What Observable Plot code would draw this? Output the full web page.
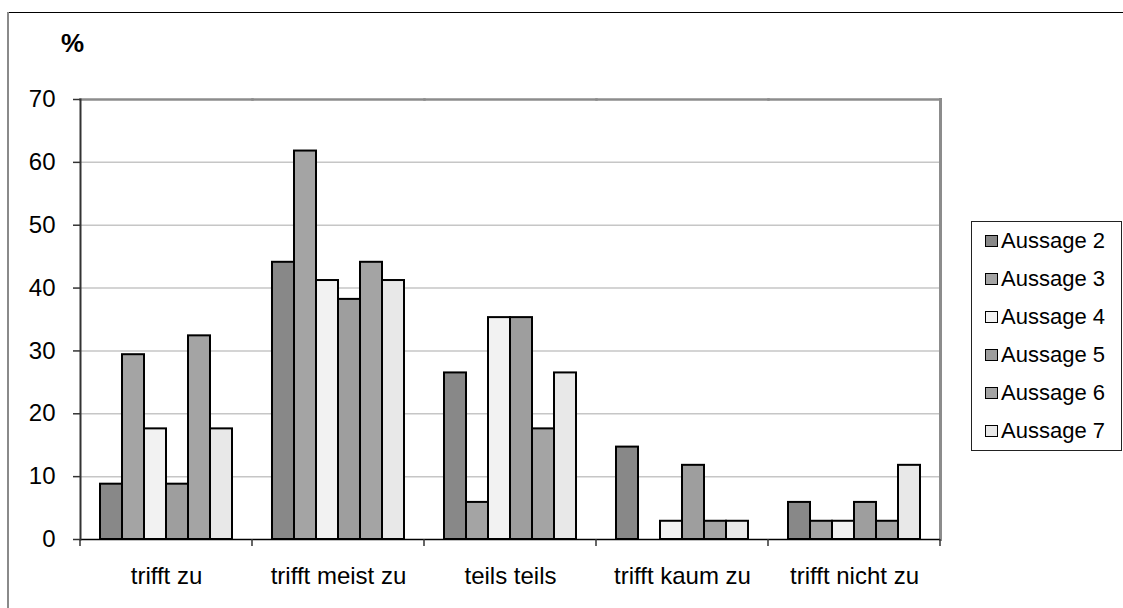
<!DOCTYPE html>
<html>
<head>
<meta charset="utf-8">
<script src="https://cdn.jsdelivr.net/npm/d3@7"></script>
<script src="https://cdn.jsdelivr.net/npm/@observablehq/plot@0.6"></script>
<style>
  body { margin: 0; background: #fff; font-family: Arial, "Liberation Sans", sans-serif; }
  #wrap { position: relative; width: 1123px; height: 608px; overflow: hidden; background: #fff; }
  #chart { position: absolute; left: 0; top: 0; }
  .border-top { position: absolute; left: 8px; top: 12px; right: 0; height: 0; border-top: 1.5px solid #000; }
  .border-left { position: absolute; left: 7px; top: 12px; bottom: 0; width: 0; border-left: 2px solid #8a8a8a; }
  .pct { position: absolute; left: 61px; top: 30px; font-size: 26px; line-height: 26px; font-weight: bold; color: #000; }
  .legend { position: absolute; left: 971px; top: 221px; width: 151px; height: 230px; border: 1px solid #222; box-sizing: border-box; background: #fff; }
  .item { height: 38px; display: flex; align-items: center; padding-left: 13px; }
  .sw { width: 11px; height: 10px; border: 1.5px solid #000; margin-right: 3px; flex: none; }
  .lab { font-size: 22px; white-space: nowrap; color: #000; }
</style>
</head>
<body>
<div id="wrap">
  <div id="chart"></div>
  <div class="border-top"></div>
  <div class="border-left"></div>
  <div class="pct">%</div>
  <div class="legend" id="legend"></div>
</div>
<script>
// ---- data ----
const categories = ["trifft zu", "trifft meist zu", "teils teils", "trifft kaum zu", "trifft nicht zu"];
const series = ["Aussage 2", "Aussage 3", "Aussage 4", "Aussage 5", "Aussage 6", "Aussage 7"];
const aussage2 = [8.8, 44.1, 26.5, 14.7, 5.9];
const aussage3 = [29.4, 61.8, 5.9, 0, 2.9];
const aussage4 = [17.6, 41.2, 35.3, 2.9, 2.9];
const aussage5 = [8.8, 38.2, 35.3, 11.8, 5.9];
const aussage6 = [32.4, 44.1, 17.6, 2.9, 2.9];
const aussage7 = [17.6, 41.2, 26.5, 2.9, 11.8];
const yTicks = [0, 10, 20, 30, 40, 50, 60, 70];
const gridValues = [10, 20, 30, 40, 50, 60];
const colors = ["#888888", "#a4a4a4", "#f2f2f2", "#9e9e9e", "#a4a4a4", "#e8e8e8"];

const seriesValues = [aussage2, aussage3, aussage4, aussage5, aussage6, aussage7];
const data = [];
categories.forEach((c, i) => {
  series.forEach((s, j) => {
    data.push({ cat: c, series: s, value: seriesValues[j][i] });
  });
});

const chart = Plot.plot({
  width: 1123,
  height: 608,
  marginTop: 99,
  marginBottom: 69,
  marginLeft: 78,
  marginRight: 181,
  style: { background: "transparent", fontFamily: "Arial, 'Liberation Sans', sans-serif", fontSize: "24px", color: "#000", overflow: "visible" },
  fx: { domain: categories, padding: 0 },
  x: { domain: series, paddingInner: 0, paddingOuter: 0.74, axis: null },
  y: { domain: [0, 70] },
  color: { domain: series, range: colors },
  marks: [
    Plot.ruleY(gridValues, { stroke: "#c6c6c6", strokeWidth: 1.5 }),
    Plot.frame({ anchor: "top", stroke: "#8c8c8c", strokeWidth: 2.5 }),
    Plot.frame({ anchor: "right", stroke: "#8c8c8c", strokeWidth: 3, facetAnchor: "right" }),
    Plot.barY(data.filter(d => d.value > 0), { fx: "cat", x: "series", y: "value", fill: "series", stroke: "#000", strokeWidth: 2 }),
    Plot.ruleY([0], { stroke: "#000", strokeWidth: 1.5 }),
    Plot.frame({ anchor: "left", stroke: "#333", strokeWidth: 2, facetAnchor: "left" }),
    Plot.axisY({ ticks: yTicks, tickSize: 7, tickPadding: 18, label: null, fontSize: 24, stroke: "#333", strokeWidth: 1.5, tickFormat: d => String(d) }),
    Plot.axisFx({ anchor: "bottom", tickSize: 0, tickPadding: 27, label: null, fontSize: 24 })
  ]
});

document.getElementById("chart").appendChild(chart);

// category boundary ticks on the x axis, from the fx scale
const fx = chart.scale("fx");
const y = chart.scale("y");
const svg = d3.select(chart.tagName.toLowerCase() === "svg" ? chart : chart.querySelector("svg"));
const edges = categories.map(c => fx.apply(c)).concat([fx.apply(categories[categories.length - 1]) + fx.bandwidth]);
const y0 = y.apply(0);
svg.append("g")
  .selectAll("line")
  .data(edges)
  .join("line")
  .attr("x1", d => d).attr("x2", d => d)
  .attr("y1", y0).attr("y2", y0 + 7)
  .attr("stroke", "#333").attr("stroke-width", 1.5);

// legend
const legend = d3.select("#legend");
series.forEach((s, i) => {
  const it = legend.append("div").attr("class", "item");
  it.append("div").attr("class", "sw").style("background", colors[i]);
  it.append("div").attr("class", "lab").text(s);
});
</script>
</body>
</html>
